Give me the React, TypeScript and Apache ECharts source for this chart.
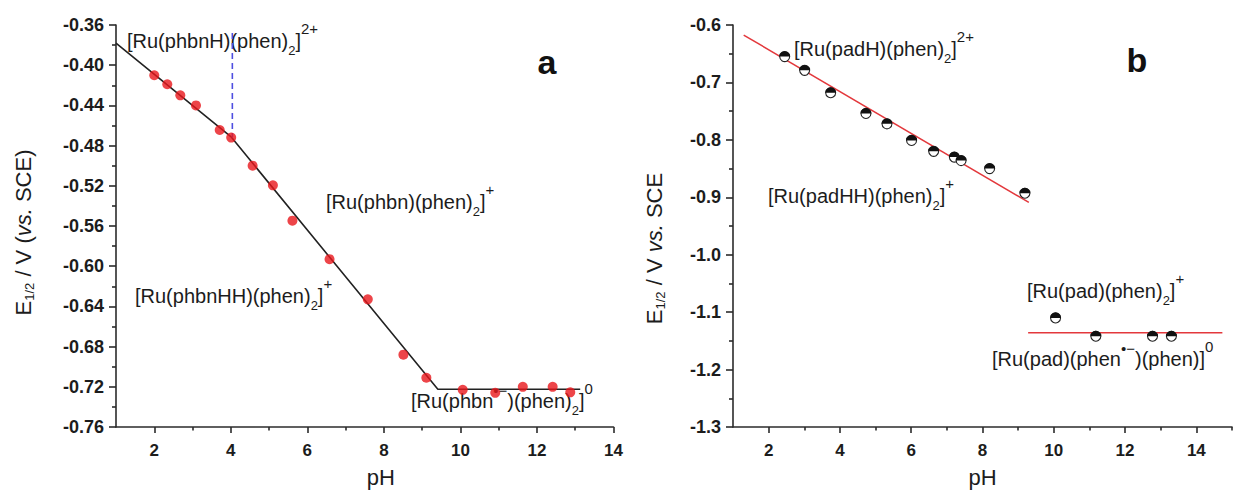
import React, { useEffect, useRef } from "react";
import * as echarts from "echarts";

// ---------- data ----------
// panel a: red dots
const phA = [2.0, 2.34, 2.68, 3.09, 3.71, 4.01, 4.57, 5.1, 5.61, 6.58, 7.58, 8.51, 9.11, 10.06, 10.91, 11.63, 12.41, 12.87];
const eA = [-0.41, -0.419, -0.43, -0.44, -0.4645, -0.472, -0.5, -0.5195, -0.5547, -0.593, -0.633, -0.688, -0.711, -0.723, -0.726, -0.72, -0.72, -0.7255];
// panel a: fitted black line
const fitAx = [1.0, 4.0, 9.41, 13.13];
const fitAy = [-0.378, -0.471, -0.7225, -0.7225];
// panel a: blue dashed marker line
const dashAx = [4.04, 4.04];
const dashAy = [-0.368, -0.472];

// panel b: half-filled circles
const phB = [2.45, 3.01, 3.74, 4.73, 5.32, 6.01, 6.63, 7.21, 7.4, 8.2, 9.19, 10.05, 11.18, 12.77, 13.3];
const eB = [-0.655, -0.679, -0.718, -0.754, -0.772, -0.801, -0.82, -0.83, -0.836, -0.85, -0.893, -1.11, -1.142, -1.142, -1.142];
// panel b: red fitted lines
const fitB1x = [1.3, 9.3];
const fitB1y = [-0.6175, -0.909];
const fitB2x = [9.28, 14.73];
const fitB2y = [-1.136, -1.136];

// tick labels
const xMajor = [2, 4, 6, 8, 10, 12, 14];
const xMinorA = [3, 5, 7, 9, 11, 13];
const xMinorB = [3, 5, 7, 9, 11, 13, 15];

const zip = (xs: number[], ys: number[]) => xs.map((x, i) => [x, ys[i]]);

const FF = "'Liberation Sans', Arial, Helvetica, sans-serif";
const AX = "#2b2b2b";
const TXT = "#1c1c1c";

const lineStyle = { color: AX, width: 1.6 };

function xMain(grid: number, max: number, namePad: number[]) {
  return {
    gridIndex: grid,
    type: "value",
    min: 1,
    max,
    position: "bottom",
    axisLine: { show: true, onZero: false, lineStyle },
    axisTick: { show: true, customValues: xMajor, length: 6, lineStyle },
    axisLabel: { customValues: xMajor, fontSize: 17, fontWeight: "bold", color: TXT, fontFamily: FF, margin: 15 },
    splitLine: { show: false },
    name: "pH",
    nameLocation: "middle",
    nameGap: 39,
    nameTextStyle: { fontSize: 22, color: TXT, fontFamily: FF, padding: namePad },
  };
}
function xMinor(grid: number, max: number, vals: number[]) {
  return {
    gridIndex: grid,
    type: "value",
    min: 1,
    max,
    position: "bottom",
    axisLine: { show: false, onZero: false },
    axisTick: { show: true, customValues: vals, length: 3.5, lineStyle },
    axisLabel: { show: false },
    splitLine: { show: false },
  };
}

const nameRich = {
  n: { fontSize: 22, fontFamily: FF, color: TXT, height: 30, lineHeight: 30, verticalAlign: "middle" },
  i: { fontSize: 22, fontFamily: FF, color: TXT, fontStyle: "italic", height: 30, lineHeight: 30, verticalAlign: "middle" },
  s: { fontSize: 13, fontFamily: FF, color: TXT, height: 18, lineHeight: 18, verticalAlign: "bottom" },
};

function yAxis(grid: number, min: number, max: number, interval: number, dec: number, name: string, gap: number, pad: number[]) {
  return {
    gridIndex: grid,
    type: "value",
    min,
    max,
    interval,
    axisLine: { show: true, onZero: false, lineStyle },
    axisTick: { show: true, length: 7, lineStyle },
    minorTick: { show: true, splitNumber: 2, length: 4, lineStyle },
    axisLabel: {
      formatter: (v: number) => v.toFixed(dec),
      fontSize: 18,
      fontWeight: "bold",
      color: TXT,
      fontFamily: FF,
      margin: 12,
    },
    splitLine: { show: false },
    minorSplitLine: { show: false },
    name,
    nameLocation: "middle",
    nameRotate: 90,
    nameGap: gap,
    nameTextStyle: { rich: nameRich, padding: pad },
  };
}

const labRich = {
  m: { fontSize: 20, fontFamily: FF, fill: TXT, height: 40, lineHeight: 40, verticalAlign: "middle" },
  s: { fontSize: 13, fontFamily: FF, fill: TXT, height: 22, lineHeight: 22, verticalAlign: "bottom" },
  p: { fontSize: 15, fontFamily: FF, fill: TXT, height: 14, lineHeight: 14, verticalAlign: "top" },
  r: { fontSize: 15, fontFamily: FF, fill: TXT, height: 18, lineHeight: 18, verticalAlign: "top" },
};

function label(x: number, y: number, text: string) {
  return {
    type: "text",
    x,
    y,
    silent: true,
    style: { text, rich: labRich, align: "left", verticalAlign: "middle", fill: TXT },
  };
}

export default function App() {
  const ref = useRef<HTMLDivElement>(null);
  useEffect(() => {
    if (!ref.current) return;
    const chart = echarts.init(ref.current, undefined, { renderer: "svg" });
    const option: any = {
      animation: false,
      backgroundColor: "#ffffff",
      grid: [
        { left: 116, top: 25, width: 497.5, height: 402, outerBoundsMode: "none" },
        { left: 733, top: 25, width: 499, height: 402, outerBoundsMode: "none" },
      ],
      xAxis: [xMain(0, 14, [0, 0, 0, 32]), xMinor(0, 14, xMinorA), xMain(1, 15, [0, 0, 0, 0]), xMinor(1, 15, xMinorB)],
      yAxis: [
        yAxis(0, -0.76, -0.36, 0.04, 2, "{n|E}{s|1/2}{n| / V (}{i|vs.}{n| SCE)}", 78, [0, 13, 0, 0]),
        yAxis(1, -1.3, -0.6, 0.1, 1, "{n|E}{s|1/2}{n| / V }{i|vs.}{n| SCE}", 64, [0, 45, 0, 0]),
      ],
      series: [
        {
          type: "line",
          xAxisIndex: 0,
          yAxisIndex: 0,
          data: zip(fitAx, fitAy),
          symbol: "none",
          lineStyle: { color: "#222222", width: 1.6 },
          z: 2,
        },
        {
          type: "line",
          xAxisIndex: 0,
          yAxisIndex: 0,
          data: zip(dashAx, dashAy),
          symbol: "none",
          lineStyle: { color: "#4f4fe0", width: 1.6, type: [6, 4] },
          z: 2,
        },
        {
          type: "scatter",
          xAxisIndex: 0,
          yAxisIndex: 0,
          data: zip(phA, eA),
          symbol: "circle",
          symbolSize: 10,
          itemStyle: { color: "#e8161b" },
          z: 3,
        },
        {
          type: "line",
          xAxisIndex: 2,
          yAxisIndex: 1,
          data: zip(fitB1x, fitB1y),
          symbol: "none",
          lineStyle: { color: "#e3383c", width: 1.5 },
          z: 2,
        },
        {
          type: "line",
          xAxisIndex: 2,
          yAxisIndex: 1,
          data: zip(fitB2x, fitB2y),
          symbol: "none",
          lineStyle: { color: "#e3383c", width: 1.5 },
          z: 2,
        },
        {
          type: "custom",
          xAxisIndex: 2,
          yAxisIndex: 1,
          data: zip(phB, eB),
          z: 3,
          renderItem: (_params: any, api: any) => {
            const p = api.coord([api.value(0), api.value(1)]);
            const r = 5;
            return {
              type: "group",
              children: [
                { type: "circle", shape: { cx: p[0], cy: p[1], r }, style: { fill: "#ffffff", stroke: "#222222", lineWidth: 1.1 } },
                {
                  type: "sector",
                  shape: { cx: p[0], cy: p[1], r0: 0, r: r + 0.4, startAngle: Math.PI, endAngle: Math.PI * 2 },
                  style: { fill: "#111111" },
                },
              ],
            };
          },
        },
      ],
      graphic: [
        label(127, 41, "{m|[Ru(phbnH)(phen)}{s|2}{m|]}{p|2+}"),
        label(326, 202, "{m|[Ru(phbn)(phen)}{s|2}{m|]}{p|+}"),
        label(135, 296, "{m|[Ru(phbnHH)(phen)}{s|2}{m|]}{p|+}"),
        label(411, 401, "{m|[Ru(phbn}{r|•−}{m|)(phen)}{s|2}{m|]}{p|0}"),
        label(794, 49, "{m|[Ru(padH)(phen)}{s|2}{m|]}{p|2+}"),
        label(768, 196, "{m|[Ru(padHH)(phen)}{s|2}{m|]}{p|+}"),
        label(1027, 291, "{m|[Ru(pad)(phen)}{s|2}{m|]}{p|+}"),
        label(992, 359, "{m|[Ru(pad)(phen}{r|•−}{m|)(phen)]}{p|0}"),
        {
          type: "text",
          x: 547,
          y: 62,
          silent: true,
          style: { text: "a", font: `bold 34px ${FF}`, fill: "#111111", align: "center", verticalAlign: "middle" },
        },
        {
          type: "text",
          x: 1137,
          y: 60,
          silent: true,
          style: { text: "b", font: `bold 34px ${FF}`, fill: "#111111", align: "center", verticalAlign: "middle" },
        },
      ],
    };
    chart.setOption(option);
    return () => chart.dispose();
  }, []);
  return (
    <div
      ref={ref}
      style={{ position: "absolute", left: 0, top: 0, width: 1235, height: 492, background: "#fff" }}
    />
  );
}
